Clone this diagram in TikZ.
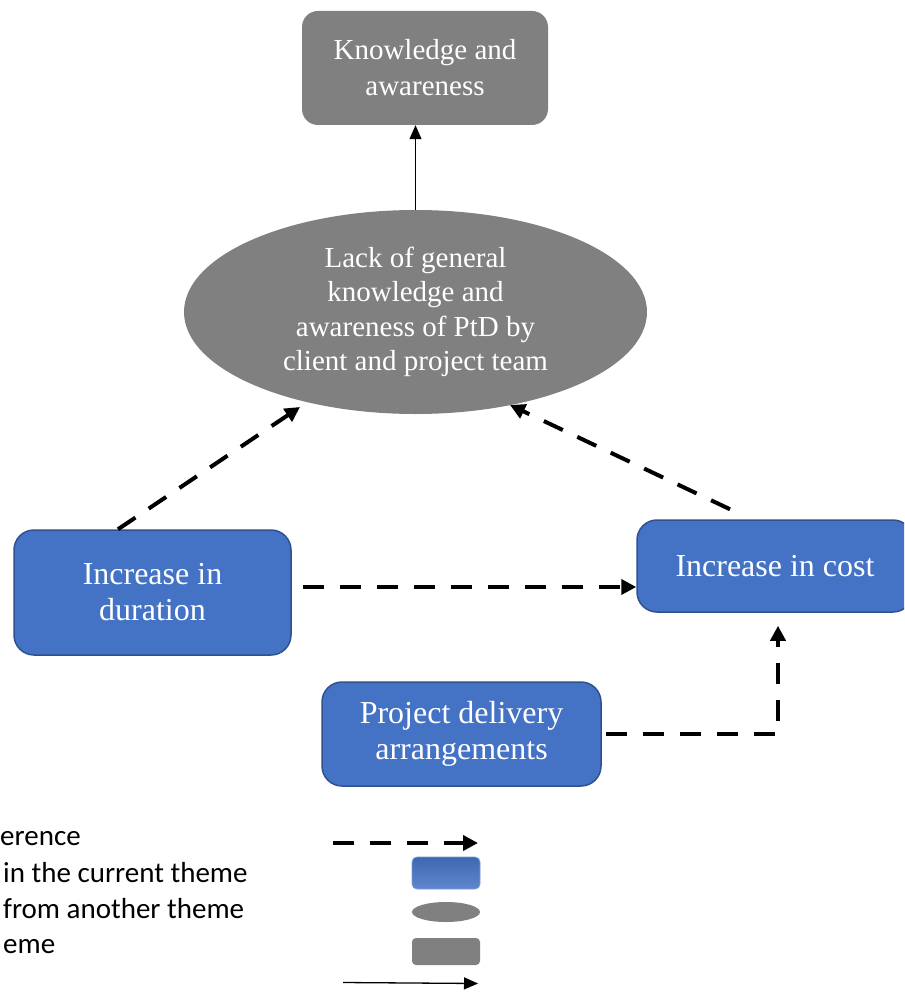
\documentclass[tikz,border=0pt]{standalone}
\usepackage{fontspec}
\setmainfont{Liberation Serif}
\newfontfamily\legfont{Carlito}
\usetikzlibrary{arrows.meta,shapes.geometric}
\definecolor{boxgray}{RGB}{128,128,128}
\definecolor{boxblue}{RGB}{68,114,196}
\definecolor{boxblueedge}{RGB}{47,82,143}
\tikzset{
  graybox/.style={draw=none,fill=boxgray,rounded corners=16pt,text=white,align=center,inner sep=0pt,font=\fontsize{29}{36}\selectfont},
  grayell/.style={ellipse,draw=none,fill=boxgray,text=white,align=center,inner sep=0pt,font=\fontsize{29}{34.5}\selectfont},
  bluebox/.style={draw=boxblueedge,line width=1.5pt,fill=boxblue,rounded corners=20pt,text=white,align=center,inner sep=0pt,font=\fontsize{32}{36}\selectfont},
  dasharrow/.style={line width=4pt,dash pattern=on 21pt off 16pt,-{Triangle[length=15pt,width=15pt]}},
  solidarrow/.style={line width=1.3pt,-{Triangle[length=14pt,width=12pt]}},
  legtext/.style={anchor=base west,inner sep=0pt,font=\legfont\fontsize{29}{35}\selectfont}
}
\begin{document}
\begin{tikzpicture}[x=1pt,y=-1pt]
\useasboundingbox (0,0) rectangle (904,992);
\clip (0,0) rectangle (904,992);
\fill[white] (0,0) rectangle (904,992);
% nodes
\node[graybox,minimum width=246pt,minimum height=114pt] (kn) at (425,68) {Knowledge and\\awareness};
\node[grayell,minimum width=463pt,minimum height=204pt] (ell) at (415.5,312) {Lack of general\\knowledge and\\awareness of PtD by\\client and project team};
\node[bluebox,minimum width=277pt,minimum height=125pt] (dur) at (152.5,592.5) {Increase in\\duration};
\node[bluebox,minimum width=276pt,minimum height=92pt] (cost) at (775,566) {Increase in cost};
\node[bluebox,minimum width=279pt,minimum height=104pt] (del) at (461.5,734) {Project delivery\\arrangements};
% connectors
\draw[solidarrow] (ell.north) -- (ell.north |- kn.south);
\coordinate (dstart) at ([xshift=-34.5pt]dur.north);
\coordinate (dend) at ([xshift=-115.5pt,yshift=-95pt]ell.center);
\draw[dasharrow] (dstart) -- (dend);
\coordinate (cstart) at ([xshift=-45pt,yshift=10pt]cost.north);
\coordinate (cend) at ([xshift=94.5pt,yshift=-93pt]ell.center);
\draw[dasharrow] (cstart) -- (cend);
\coordinate (h1) at ([xshift=11pt,yshift=5.5pt]dur.east);
\draw[dasharrow] (h1) -- (h1 -| cost.west);
\coordinate (d1) at ([xshift=4pt]del.east);
\coordinate (d2) at ([xshift=3pt,yshift=-13pt]cost.south);
\draw[dasharrow] (d1) -| (d2);
% legend
\node[legtext] (t1) at (0,845) {erence};
\node[legtext] (t2) at (3,882) {in the current theme};
\node[legtext] (t3) at (3,918) {from another theme};
\node[legtext] (t4) at (3,953) {eme};
\coordinate (la1) at (333,843);
\coordinate (la2) at (478,843);
\draw[dasharrow] (la1) -- (la2);
\node[draw=boxblue!70!white,line width=0.8pt,top color=boxblue!90!black,bottom color=boxblue!85!white,rounded corners=5pt,minimum width=68pt,minimum height=32pt,inner sep=0pt] (lb) at (446,873) {};
\node[ellipse,fill=boxgray,minimum width=68pt,minimum height=20pt,inner sep=0pt] (le) at (446,912) {};
\node[fill=boxgray,rounded corners=4pt,minimum width=68pt,minimum height=27pt,inner sep=0pt] (lg) at (446,951.5) {};
\coordinate (ls1) at (343,982.5);
\coordinate (ls2) at (478,983.5);
\draw[solidarrow] (ls1) -- (ls2);
\end{tikzpicture}
\end{document}
